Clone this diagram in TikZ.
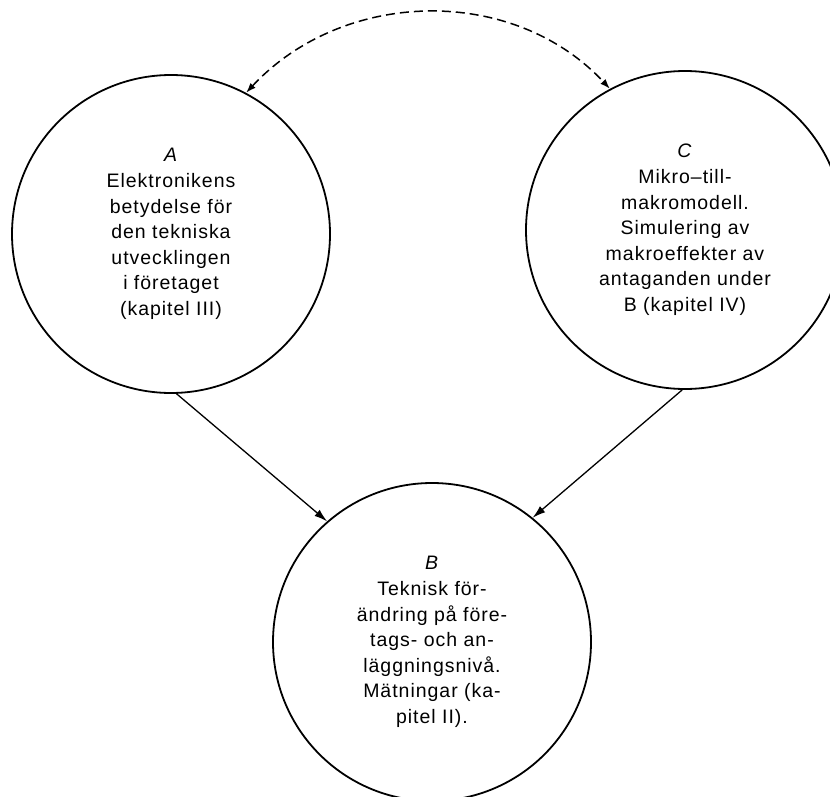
\documentclass[tikz,border=0pt]{standalone}
\usepackage{fontspec}
\setmainfont{Liberation Sans}[LetterSpace=5]
\usetikzlibrary{arrows.meta}
\tikzset{
  bubble/.style={draw, circle, line width=1.8pt, minimum size=318pt, inner sep=0pt,
    align=center, font=\fontsize{19.5}{25.6}\selectfont},
  flow/.style={line width=1.3pt, -{Latex[length=13pt,width=8pt]}},
  link/.style={line width=1.5pt, dash pattern=on 9pt off 5pt,
    {Latex[length=10pt,width=7pt]}-{Latex[length=10pt,width=7pt]}}
}
\begin{document}
\begin{tikzpicture}[x=1pt,y=-1pt]
\useasboundingbox (0,0) rectangle (830,797);
\node[bubble] (A) at (171,234) {\textit{A}\\Elektronikens\\betydelse för\\den tekniska\\utvecklingen\\i företaget\\(kapitel III)};
\node[bubble] (C) at (685,230) {\textit{C}\\Mikro–till-\\makromodell.\\Simulering av\\makroeffekter av\\antaganden under\\B (kapitel IV)};
\node[bubble] (B) at (432,642) {\textit{B}\\Teknisk för-\\ändring på före-\\tags- och an-\\läggningsnivå.\\Mätningar (ka-\\pitel II).};
\draw[flow] (A.-88) -- (B.131);
\draw[flow] (C.-91) -- (B.51);
\draw[link] (A.62) to[out=47,in=133] (C.118);
\end{tikzpicture}
\end{document}
